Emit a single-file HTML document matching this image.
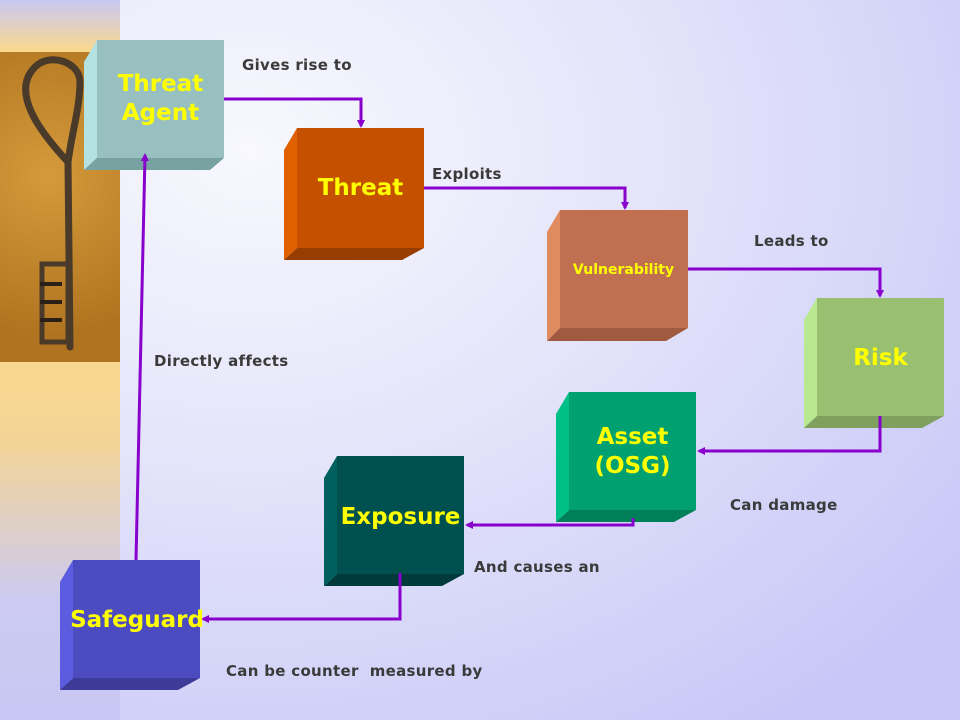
<!DOCTYPE html>
<html><head><style>
body{margin:0;width:960px;height:720px;overflow:hidden;position:relative;font-family:"DejaVu Sans","Liberation Sans",sans-serif;
background:radial-gradient(ellipse 900px 700px at 250px 150px,#f8f8fe 0%,#e4e4fa 45%,#c8c8f8 100%);}
.strip{position:absolute;left:0;top:0;width:120px;height:720px;background:linear-gradient(#c8c8f4 0px,#f8d890 50px,#f8d890 370px,#f4d496 440px,#cccaf0 600px,#c8c8f4 720px);}
.key{position:absolute;left:0;top:52px;width:120px;height:310px;background:radial-gradient(circle at 40% 40%,#d49a3a,#b07420 80%);}
.lbl{position:absolute;font-size:15px;letter-spacing:0.3px;font-weight:bold;color:#3a3a3a;white-space:nowrap}
.t{position:absolute;font-weight:bold;color:#ffff00;font-size:23px;text-align:center;line-height:29px;white-space:nowrap}
</style></head><body>
<div class="strip"></div>
<div class="key">
<svg width="120" height="310"><g fill="none" stroke="#4a3a2a" stroke-width="7" stroke-linecap="round">
<path d="M70 295 L68 110 C40 80 10 40 35 15 C50 0 80 10 80 30 C80 55 72 80 68 110"/>
<path d="M42 212 L68 212 L68 290 L42 290 Z" stroke-width="5"/>
</g><g stroke="#2a2018" stroke-width="4"><line x1="40" y1="232" x2="62" y2="232"/><line x1="40" y1="250" x2="62" y2="250"/><line x1="40" y1="268" x2="62" y2="268"/></g></svg>
</div>
<svg width="960" height="720" style="position:absolute;left:0;top:0">
<defs><marker id="a" markerWidth="8" markerHeight="8" refX="6" refY="4" orient="auto" markerUnits="userSpaceOnUse"><path d="M0,0 L8,4 L0,8 Z" fill="#8800cc"/></marker></defs>
<polygon points="84,62 97,40 97,158 84,170" fill="#b4e2e2"/><polygon points="84,170 97,158 224,158 210,170" fill="#78a2a2"/><rect x="97" y="40" width="127" height="118" fill="#99c0c0"/>
<polygon points="284,150 297,128 297,248 284,260" fill="#e06000"/><polygon points="284,260 297,248 424,248 402,260" fill="#983c00"/><rect x="297" y="128" width="127" height="120" fill="#c45000"/>
<polygon points="547,232 560,210 560,328 547,341" fill="#e08a60"/><polygon points="547,341 560,328 688,328 666,341" fill="#a05a40"/><rect x="560" y="210" width="128" height="118" fill="#c07050"/>
<polygon points="804,320 817,298 817,416 804,428" fill="#b8e890"/><polygon points="804,428 817,416 944,416 922,428" fill="#80a060"/><rect x="817" y="298" width="127" height="118" fill="#99c070"/>
<polygon points="556,414 569,392 569,510 556,522" fill="#00c088"/><polygon points="556,522 569,510 696,510 674,522" fill="#008058"/><rect x="569" y="392" width="127" height="118" fill="#00a070"/>
<polygon points="324,478 337,456 337,574 324,586" fill="#006060"/><polygon points="324,586 337,574 464,574 442,586" fill="#003a3a"/><rect x="337" y="456" width="127" height="118" fill="#005050"/>
<polygon points="60,582 73,560 73,678 60,690" fill="#5c5ce0"/><polygon points="60,690 73,678 200,678 178,690" fill="#3c3c98"/><rect x="73" y="560" width="127" height="118" fill="#4c4cc0"/>
<g fill="none" stroke="#8800cc" stroke-width="3">
<polyline points="224,99 361,99 361,126" marker-end="url(#a)"/>
<polyline points="424,188 625,188 625,208" marker-end="url(#a)"/>
<polyline points="688,269 880,269 880,296" marker-end="url(#a)"/>
<polyline points="880,416 880,451 699,451" marker-end="url(#a)"/>
<polyline points="633,518 633,525 467,525" marker-end="url(#a)"/>
<polyline points="400,573 400,619 203,619" marker-end="url(#a)"/>
<polyline points="136,560 145,155" marker-end="url(#a)"/>
</g>
</svg>
<div class="t" style="left:97px;top:70px;width:127px">Threat<br>Agent</div>
<div class="t" style="left:297px;top:174px;width:127px">Threat</div>
<div class="t" style="left:556px;top:260px;width:135px;font-size:14px;line-height:20px">Vulnerability</div>
<div class="t" style="left:817px;top:344px;width:127px">Risk</div>
<div class="t" style="left:569px;top:423px;width:127px">Asset<br>(OSG)</div>
<div class="t" style="left:337px;top:503px;width:127px">Exposure</div>
<div class="t" style="left:67px;top:606px;width:140px">Safeguard</div>
<div class="lbl" style="left:242px;top:56px">Gives rise to</div>
<div class="lbl" style="left:432px;top:165px">Exploits</div>
<div class="lbl" style="left:754px;top:232px">Leads to</div>
<div class="lbl" style="left:154px;top:352px">Directly affects</div>
<div class="lbl" style="left:730px;top:496px">Can damage</div>
<div class="lbl" style="left:474px;top:558px">And causes an</div>
<div class="lbl" style="left:226px;top:662px">Can be counter&nbsp; measured by</div>
</body></html>
